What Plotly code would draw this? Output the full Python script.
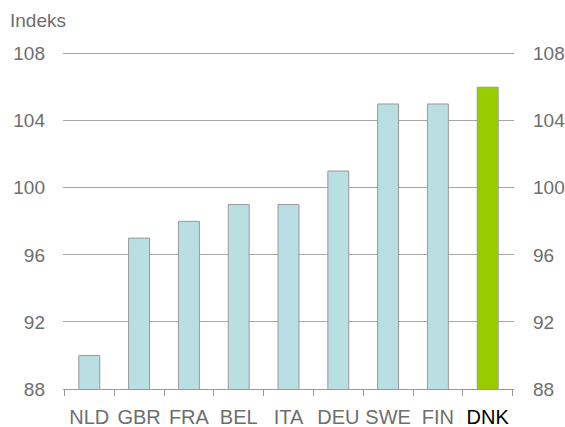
import plotly.graph_objects as go

countries = ["NLD", "GBR", "FRA", "BEL", "ITA", "DEU", "SWE", "FIN", "DNK"]
values = [90, 97, 98, 99, 99, 101, 105, 105, 106]
y_ticks = [88, 92, 96, 100, 104, 108]

fill_colors = ["#b9dfe3"] * (len(countries) - 1) + ["#99cc00"]
tick_text = [c if c != "DNK" else "<span style='color:#000000'>DNK</span>" for c in countries]

fig = go.Figure()
fig.add_trace(go.Bar(
    x=countries, y=values, width=0.42,
    marker=dict(color=fill_colors, line=dict(color="#999999", width=1)),
    showlegend=False, hoverinfo="skip",
))
fig.add_trace(go.Scatter(
    x=countries, y=values, yaxis="y2", mode="markers",
    marker=dict(opacity=0), showlegend=False, hoverinfo="skip",
))

font = dict(family="Liberation Sans, Arial, sans-serif", size=19, color="#6e6e6e")
xfont = dict(family="Liberation Sans, Arial, sans-serif", size=20, color="#6e6e6e")
yr = [88, 108.1]

fig.update_layout(
    width=565, height=427,
    margin=dict(l=63, r=51, t=52, b=38, autoexpand=False),
    paper_bgcolor="white", plot_bgcolor="white",
    font=font,
    xaxis=dict(
        type="category", tickvals=countries, ticktext=tick_text, tickangle=0,
        ticks="outside", tickson="boundaries", ticklen=6, tickcolor="#999999",
        showline=True, linecolor="#999999", linewidth=1, automargin=False,
        showgrid=False, tickfont=xfont, ticklabelstandoff=10,
    ),
    yaxis=dict(
        range=yr, tickvals=y_ticks, showgrid=True, gridcolor="#a6a6a6", automargin=False,
        gridwidth=1, zeroline=False, showline=False, ticks="", ticklabelstandoff=17,
        tickfont=font,
    ),
    yaxis2=dict(
        range=yr, tickvals=y_ticks, overlaying="y", side="right", automargin=False,
        showgrid=False, zeroline=False, showline=False, ticks="", ticklabelstandoff=18,
        tickfont=font,
    ),
    annotations=[dict(
        text="Indeks", xref="paper", yref="paper", x=-63/451, y=1 + 32/337,
        xanchor="left", yanchor="middle", showarrow=False,
        font=dict(family="Liberation Sans, Arial, sans-serif", size=19, color="#6e6e6e"),
        xshift=8,
    )],
)

fig.write_html("out.html", config={"displayModeBar": False},
               post_script="document.body.style.margin='0';document.body.style.overflow='hidden';")
